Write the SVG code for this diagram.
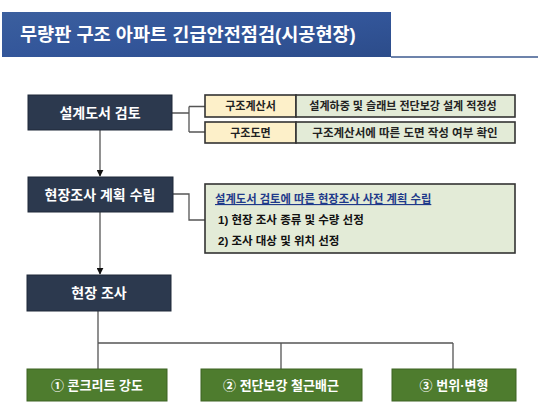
<svg xmlns="http://www.w3.org/2000/svg" width="540" height="415" viewBox="0 0 540 415">
<defs>
<linearGradient id="tg" x1="0" y1="0" x2="1" y2="1">
<stop offset="0" stop-color="#3b5f9e"/>
<stop offset="0.5" stop-color="#33569a"/>
<stop offset="1" stop-color="#2c4c8a"/>
</linearGradient>
<marker id="arr" viewBox="0 0 10 10" refX="9" refY="5" markerWidth="7" markerHeight="7" markerUnits="userSpaceOnUse" orient="auto">
<path d="M0,0 L10,5 L0,10 z" fill="#111"/>
</marker>
</defs>
<style>
text{font-family:"Liberation Sans","Noto Sans CJK KR",sans-serif;font-weight:bold}
.node{fill:#2c394e;stroke:#1e2838;stroke-width:1}
.nt{fill:#fff;font-size:14px;text-anchor:middle}
.lab{fill:#fdf0c9;stroke:#333;stroke-width:1.6}
.desc{fill:#e3ebd7;stroke:#333;stroke-width:1.6}
.lt{fill:#222;font-size:11px;text-anchor:middle}
.gb{fill:#4e7c2e;stroke:#3c6322;stroke-width:1}
.gt{fill:#fff;font-size:13px;text-anchor:middle}
.c{fill:none;stroke:#555;stroke-width:1.3}
</style>
<rect width="540" height="415" fill="#fff"/>
<g id="title">
<rect x="2" y="12" width="389" height="45" fill="url(#tg)"/>
<line x1="391" y1="57" x2="538" y2="57" stroke="#3d5a8f" stroke-width="1.6"/>
<text x="20" y="41" fill="#fff" font-size="18.6">무량판 구조 아파트 긴급안전점검(시공현장)</text>
</g>
<g id="connectors">
<path class="c" d="M172,113 H189 M189,106.5 V132 M189,106.5 H205 M189,132 H205"/>
<path class="c" d="M173,194 H189 V220 H205"/>
<line class="c" x1="100" y1="130" x2="100" y2="176" marker-end="url(#arr)"/>
<line class="c" x1="100" y1="212" x2="100" y2="274" marker-end="url(#arr)"/>
<path class="c" d="M98,311 V343 M98,343 H453 M98,343 V369 M281,343 V369 M453,343 V369"/>
</g>
<g id="n1">
<rect class="node" x="28" y="95" width="144" height="35"/>
<text class="nt" x="100" y="118">설계도서 검토</text>
</g>
<g id="r1">
<rect class="lab" x="205" y="95" width="91" height="22"/>
<rect class="desc" x="296" y="95" width="219" height="22"/>
<text class="lt" x="250.5" y="110">구조계산서</text>
<text class="lt" x="403" y="110" font-size="10">설계하중 및 슬래브 전단보강 설계 적정성</text>
</g>
<g id="r2">
<rect class="lab" x="205" y="122" width="91" height="21"/>
<rect class="desc" x="296" y="122" width="219" height="21"/>
<text class="lt" x="250.5" y="136.5">구조도면</text>
<text class="lt" x="405" y="136.5" style="font-size:11.5px">구조계산서에 따른 도면 작성 여부 확인</text>
</g>
<g id="n2">
<rect class="node" x="28" y="177" width="145" height="35"/>
<text class="nt" x="100" y="199.5">현장조사 계획 수립</text>
</g>
<g id="plan">
<rect class="desc" x="205" y="184" width="310" height="69"/>
<text x="215" y="203" fill="#1f3a8a" font-size="11.3" text-decoration="underline">설계도서 검토에 따른 현장조사 사전 계획 수립</text>
<text x="218" y="224" fill="#111" font-size="11.5">1) 현장 조사 종류 및 수량 선정</text>
<text x="218" y="245" fill="#111" font-size="11.5">2) 조사 대상 및 위치 선정</text>
</g>
<g id="n3">
<rect class="node" x="27" y="275" width="144" height="36"/>
<text class="nt" x="99" y="298">현장 조사</text>
</g>
<g id="b1">
<rect class="gb" x="27" y="369" width="140" height="32"/>
<text class="gt" x="97" y="390">① 콘크리트 강도</text>
</g>
<g id="b2">
<rect class="gb" x="201" y="369" width="161" height="32"/>
<text class="gt" x="281" y="390">② 전단보강 철근배근</text>
</g>
<g id="b3">
<rect class="gb" x="392" y="369" width="124" height="32"/>
<text class="gt" x="454" y="390">③ 번위·변형</text>
</g>
</svg>
